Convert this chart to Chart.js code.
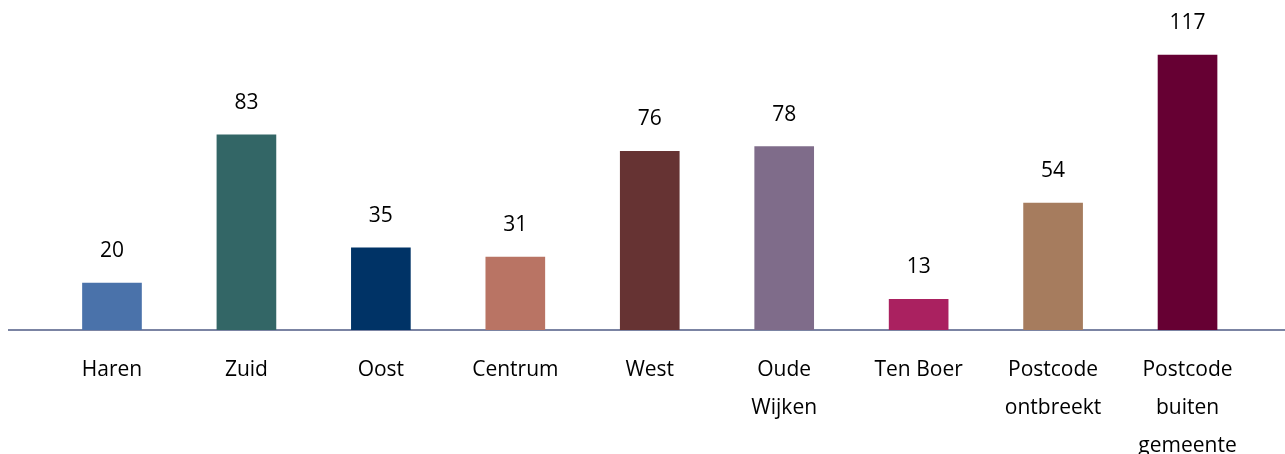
<!DOCTYPE html>
<html>
<head>
<meta charset="utf-8">
<script src="https://cdn.jsdelivr.net/npm/chart.js@4/dist/chart.umd.min.js"></script>
<style>
  html, body { margin: 0; padding: 0; background: #fff; }
  #wrap { width: 1285px; height: 454px; position: relative; }
</style>
</head>
<body>
<div id="wrap"><canvas id="myBarChart"></canvas></div>
<script>
// categories (multi-line labels as arrays)
const categories = [
    'Haren', 'Zuid', 'Oost', 'Centrum', 'West',
    ['Oude', 'Wijken'], 'Ten Boer',
    ['Postcode', 'ontbreekt'], ['Postcode', 'buiten', 'gemeente']
];
const counts = [20, 83, 35, 31, 76, 78, 13, 54, 117];
const barColors = ['#4A72AA', '#336666', '#003366', '#B97464', '#663333',
                   '#7F6C8A', '#AA2160', '#A67C5E', '#660033'];

const fontFamily = '"Open Sans", "Noto Sans", sans-serif';

// draws the count above every bar
const valueLabels = {
    id: 'valueLabels',
    afterDatasetsDraw(chart) {
        const ctx = chart.ctx;
        const meta = chart.getDatasetMeta(0);
        ctx.save();
        ctx.font = '21px ' + fontFamily;
        ctx.fillStyle = '#000';
        ctx.textAlign = 'center';
        ctx.textBaseline = 'middle';
        meta.data.forEach(function (bar, i) {
            ctx.fillText(String(counts[i]), bar.x, bar.y - 32);
        });
        ctx.restore();
    }
};

const data = {
    datasets: [{
        data: counts.map((v, i) => ({ x: i, y: v })),
        backgroundColor: barColors,
        barThickness: 59
    }]
};

const config = {
    type: 'bar',
    data: data,
    options: {
        responsive: true,
        maintainAspectRatio: false,
        animation: false,
        layout: { padding: { top: 1, left: 9, right: 0, bottom: 0 } },
        plugins: {
            legend: { display: false },
            tooltip: { enabled: false }
        },
        scales: {
            x: {
                type: 'linear',
                offset: false,
                min: -0.766,
                max: 8.725,
                afterBuildTicks: function (scale) {
                    scale.ticks = categories.map((_, i) => ({ value: i }));
                },
                afterFit: function (scale) {
                    scale.height = 124;
                },
                grid: { display: false, drawTicks: false },
                border: { display: true, color: '#7B84A3', width: 2 },
                ticks: {
                    autoSkip: false,
                    maxRotation: 0,
                    padding: 21,
                    color: '#000',
                    font: { family: fontFamily, size: 21, lineHeight: 1.81 },
                    callback: function (value) {
                        return categories[value];
                    }
                }
            },
            y: {
                display: false,
                min: 0,
                max: 140
            }
        }
    },
    plugins: [valueLabels]
};

const myBarChart = new Chart(document.getElementById('myBarChart'), config);
</script>
</body>
</html>
